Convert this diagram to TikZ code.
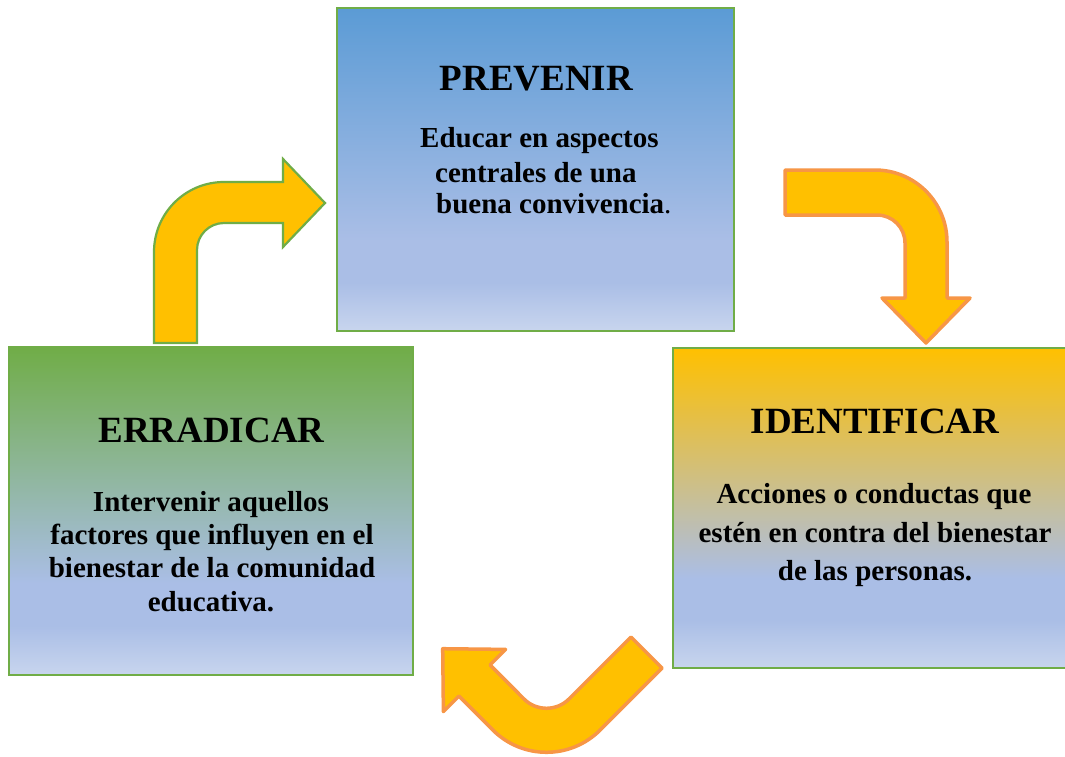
\documentclass[tikz,border=0pt]{standalone}
\usepackage{fontspec}
\setmainfont{Liberation Serif}
\definecolor{boxgreen}{HTML}{70AD47}
\definecolor{arrowfill}{HTML}{FFC000}
\definecolor{arroworange}{HTML}{F79646}
\definecolor{topblue}{HTML}{5B9BD5}
\definecolor{topgreen}{HTML}{70AD47}
\definecolor{topgold}{HTML}{FFC000}
\definecolor{lav}{HTML}{AABEE6}
\definecolor{lavlight}{HTML}{C8D5EE}
\pgfdeclareverticalshading{prevshade}{100bp}{color(0bp)=(lavlight); color(25bp)=(lavlight); color(32.5bp)=(lav); color(39bp)=(lav); color(75bp)=(topblue); color(100bp)=(topblue)}
\pgfdeclareverticalshading{erradshade}{100bp}{color(0bp)=(lavlight); color(25bp)=(lavlight); color(32.5bp)=(lav); color(39bp)=(lav); color(75bp)=(topgreen); color(100bp)=(topgreen)}
\pgfdeclareverticalshading{idenshade}{100bp}{color(0bp)=(lavlight); color(25bp)=(lavlight); color(32.5bp)=(lav); color(39bp)=(lav); color(75bp)=(topgold); color(100bp)=(topgold)}
\begin{document}
\begin{tikzpicture}[x=1pt,y=-1pt,
  boxstyle/.style={draw=boxgreen,line width=2.5pt,inner sep=0pt,shade},
  titletext/.style={font=\bfseries\fontsize{37}{40}\selectfont,inner sep=0pt},
  bodytext/.style={font=\bfseries\fontsize{29}{33}\selectfont,inner sep=0pt},
  arrowgreen/.style={fill=arrowfill,draw=boxgreen,line width=2.2pt,line join=miter},
  arroworange/.style={fill=arrowfill,draw=arroworange,line width=3.5pt,line join=round}]
\useasboundingbox (0,0) rectangle (1065,756);
\fill[white] (0,0) rectangle (1065,756);

% boxes
\node[boxstyle,shading=prevshade,minimum width=397pt,minimum height=323pt] (prev) at (535.5,169.5) {};
\node[boxstyle,shading=idenshade,minimum width=397pt,minimum height=320pt] (iden) at (871.5,508) {};
\node[boxstyle,shading=erradshade,minimum width=404pt,minimum height=328pt] (erra) at (211,511) {};

% PREVENIR text
\node[titletext,anchor=base] (prevT) at (536.5,90) {PREVENIR};
\node[bodytext,anchor=base west] (prevA) at (420,147) {Educar en aspectos};
\node[bodytext,anchor=base west] (prevB) at (435,182) {centrales de una};
\node[bodytext,anchor=base west] (prevC) at (436,213) {buena convivencia{\mdseries .}};

% IDENTIFICAR text
\node[titletext,anchor=base] (idenT) at (875,433) {IDENTIFICAR};
\node[bodytext,anchor=base] (idenA) at (874,503) {Acciones o conductas que};
\node[bodytext,anchor=base] (idenB) at (875,542) {estén en contra del bienestar};
\node[bodytext,anchor=base] (idenC) at (875,580) {de las personas.};

% ERRADICAR text
\node[titletext,anchor=base] (erraT) at (211.5,442) {ERRADICAR};
\node[bodytext,anchor=base] (erraA) at (211,511) {Intervenir aquellos};
\node[bodytext,anchor=base] (erraB) at (212,544) {factores que influyen en el};
\node[bodytext,anchor=base] (erraC) at (212,577) {bienestar de la comunidad};
\node[bodytext,anchor=base] (erraD) at (211,611) {educativa.};

% arrow 1: ERRADICAR -> PREVENIR
\draw[arrowgreen] (154,343) -- (154,252)
  .. controls (154,213.3) and (185.3,182) .. (224,182)
  -- (283,182) -- (283,159) -- (325,203) -- (283,247) -- (283,223) -- (224,223)
  .. controls (209.1,223) and (197,235.1) .. (197,250)
  -- (197,343) -- cycle;

% arrow 2: PREVENIR -> IDENTIFICAR
\draw[arroworange] (785,170) -- (875,170)
  .. controls (914.8,170) and (947,202.2) .. (947,242)
  -- (947,298) -- (970,298) -- (926,343) -- (882,298) -- (905,298) -- (905,243)
  .. controls (905,227.5) and (892.5,215) .. (877,215)
  -- (785,215) -- cycle;

% arrow 3: IDENTIFICAR -> ERRADICAR
\draw[arroworange] (631,637) -- (569.1,698.9)
  .. controls (556.6,711.4) and (536.4,711.4) .. (523.9,698.9)
  -- (490.1,664.9) -- (505.6,649.4) -- (442.7,648.7) -- (443.4,711.6) -- (458.9,696.1)
  -- (492.8,730.0) .. controls (522.5,759.7) and (570.5,759.7) .. (600.2,730.0)
  -- (662.1,668.1) -- cycle;
\end{tikzpicture}
\end{document}
